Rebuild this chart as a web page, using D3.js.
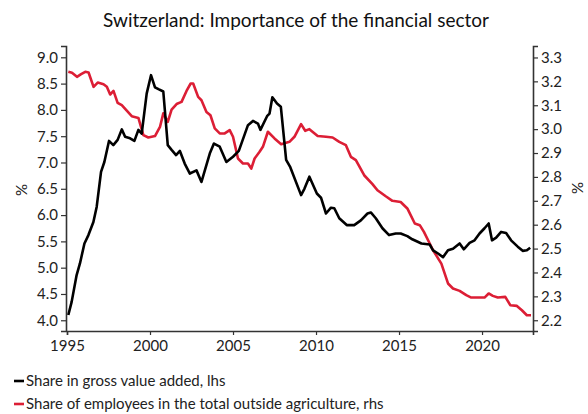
<!DOCTYPE html>
<html>
<head>
<meta charset="utf-8">
<script src="https://cdn.jsdelivr.net/npm/d3@7"></script>
<style>
  html, body { margin: 0; padding: 0; background: #fff; }
  svg { display: block; font-family: Lato, "Open Sans", sans-serif; }
</style>
</head>
<body>
<svg id="chart" width="588" height="414"></svg>
<script>
// ---- Data ----
const titleText = "Switzerland: Importance of the financial sector";
const xTicks = [1995, 2000, 2005, 2010, 2015, 2020];
const leftTicks = [4.0, 4.5, 5.0, 5.5, 6.0, 6.5, 7.0, 7.5, 8.0, 8.5, 9.0];
const rightTicks = [2.2, 2.3, 2.4, 2.5, 2.6, 2.7, 2.8, 2.9, 3.0, 3.1, 3.2, 3.3];
const seriesNames = ["Share in gross value added, lhs", "Share of employees in the total outside agriculture, rhs"];

// Share in gross value added (lhs)
const gvaDates = [1995.08,1995.28,1995.58,1995.78,1996.05,1996.29,1996.59,1996.79,1997.05,1997.25,1997.53,1997.79,1998.05,1998.3,1998.5,1998.8,1999.06,1999.3,1999.5,1999.8,2000.06,2000.3,2000.54,2000.8,2001.07,2001.3,2001.57,2001.8,2002.09,2002.4,2002.8,2003.1,2003.6,2003.85,2004.2,2004.6,2005.0,2005.35,2005.9,2006.2,2006.5,2006.65,2007.05,2007.2,2007.37,2007.65,2007.88,2008.2,2008.45,2009.1,2009.3,2009.6,2010.05,2010.3,2010.6,2010.9,2011.1,2011.4,2011.85,2012.3,2012.7,2013.1,2013.3,2013.6,2014.0,2014.4,2014.8,2015.1,2015.5,2015.8,2016.35,2016.85,2017.05,2017.35,2017.65,2017.95,2018.25,2018.65,2018.9,2019.25,2019.55,2019.85,2020.15,2020.4,2020.6,2020.85,2021.15,2021.45,2021.75,2022.15,2022.45,2022.7,2022.9];
const gvaValues = [4.10,4.35,4.86,5.08,5.46,5.62,5.87,6.16,6.82,7.01,7.41,7.33,7.43,7.63,7.49,7.46,7.41,7.62,7.55,8.31,8.66,8.43,8.39,8.35,7.33,7.24,7.14,7.22,6.98,6.79,6.85,6.63,7.17,7.36,7.30,7.01,7.11,7.22,7.71,7.79,7.74,7.62,7.88,7.93,8.24,8.12,8.06,7.05,6.91,6.38,6.50,6.73,6.41,6.33,6.03,6.14,6.13,5.94,5.81,5.81,5.90,6.03,6.05,5.94,5.75,5.62,5.65,5.65,5.60,5.54,5.46,5.44,5.33,5.27,5.20,5.33,5.36,5.46,5.35,5.47,5.52,5.65,5.75,5.84,5.52,5.57,5.68,5.66,5.52,5.40,5.32,5.33,5.38];

// Share of employees in the total outside agriculture (rhs)
const empDates = [1995.08,1995.3,1995.6,1995.85,1996.1,1996.3,1996.6,1996.85,1997.2,1997.4,1997.6,1997.8,1998.05,1998.3,1998.6,1998.9,1999.3,1999.6,1999.9,2000.3,2000.6,2000.8,2001.07,2001.3,2001.6,2001.9,2002.2,2002.45,2002.6,2002.9,2003.1,2003.4,2003.64,2003.9,2004.2,2004.5,2004.8,2005.0,2005.3,2005.6,2005.9,2006.1,2006.3,2006.6,2006.8,2007.1,2007.5,2007.9,2008.4,2008.7,2009.1,2009.35,2009.6,2010.1,2010.6,2011.0,2011.4,2011.8,2012.1,2012.4,2012.9,2013.4,2013.7,2014.2,2014.6,2015.1,2015.5,2015.95,2016.25,2016.5,2017.05,2017.55,2017.95,2018.25,2018.65,2019.05,2019.35,2020.15,2020.4,2020.65,2020.95,2021.4,2021.7,2022.1,2022.4,2022.7,2022.95];
const empValues = [3.240,3.236,3.219,3.230,3.240,3.237,3.177,3.195,3.188,3.177,3.145,3.160,3.110,3.100,3.077,3.054,3.047,2.975,2.965,2.971,3.009,3.066,3.030,3.082,3.105,3.114,3.160,3.191,3.191,3.135,3.121,3.072,3.058,3.003,2.982,2.982,2.996,2.968,2.877,2.856,2.856,2.835,2.877,2.905,2.926,2.989,2.961,2.937,2.947,2.968,3.021,2.993,3.000,2.971,2.968,2.965,2.947,2.933,2.884,2.870,2.807,2.770,2.744,2.719,2.700,2.695,2.668,2.605,2.598,2.570,2.493,2.437,2.354,2.333,2.323,2.305,2.295,2.295,2.312,2.302,2.295,2.298,2.263,2.260,2.242,2.221,2.221];

// ---- Layout ----
const svg = d3.select("#chart");
const plot = { left: 66, right: 533, top: 46, bottom: 331 };
const axisColor = "#333";
const red = "#dc1e35";
const fontFam = "Lato, 'Open Sans', sans-serif";

const x = d3.scaleLinear().domain([1995, 2023.07]).range([plot.left + 1, plot.right]);
const yL = d3.scaleLinear().domain([3.796, 9.215]).range([plot.bottom, plot.top]);
const yR = d3.scaleLinear().domain([2.155, 3.348]).range([plot.bottom, plot.top]);

// Title
svg.append("text")
  .attr("x", 296).attr("y", 27)
  .attr("text-anchor", "middle")
  .attr("font-size", 19)
  .attr("fill", "#111")
  .text(titleText);

// Axes
function styleAxis(g) {
  g.selectAll("path").attr("stroke", axisColor).attr("stroke-width", 1.6);
  g.selectAll("line").attr("stroke", axisColor).attr("stroke-width", 1.2);
  g.selectAll("text").attr("fill", "#222").attr("font-size", 15).attr("font-family", fontFam);
}

svg.append("g")
  .attr("transform", `translate(${plot.left},0)`)
  .call(d3.axisLeft(yL).tickValues(leftTicks).tickFormat(d3.format(".1f")).tickSizeOuter(0).tickSize(5).tickPadding(3))
  .call(styleAxis);

svg.append("g")
  .attr("transform", `translate(${plot.right},0)`)
  .call(d3.axisRight(yR).tickValues(rightTicks).tickFormat(d3.format(".1f")).tickSizeOuter(0).tickSize(5).tickPadding(3))
  .call(styleAxis);

svg.append("g")
  .attr("transform", `translate(0,${plot.bottom})`)
  .call(d3.axisBottom(x).tickValues(xTicks).tickFormat(d3.format("d")).tickSizeOuter(0).tickSize(4).tickPadding(5))
  .call(styleAxis);

// Axis unit labels
svg.append("text")
  .attr("transform", "translate(27,190) rotate(-90)")
  .attr("text-anchor", "middle").attr("font-size", 15).attr("fill", "#222")
  .text("%");
svg.append("text")
  .attr("transform", "translate(572,188) rotate(90)")
  .attr("text-anchor", "middle").attr("font-size", 15).attr("fill", "#222")
  .text("%");

// Lines
const gvaData = gvaDates.map((d, i) => [d, gvaValues[i]]);
const empData = empDates.map((d, i) => [d, empValues[i]]);

svg.append("path")
  .datum(empData)
  .attr("fill", "none").attr("stroke", red).attr("stroke-width", 2.6)
  .attr("stroke-linejoin", "round")
  .attr("d", d3.line().x(d => x(d[0])).y(d => yR(d[1])));

svg.append("path")
  .datum(gvaData)
  .attr("fill", "none").attr("stroke", "#000").attr("stroke-width", 2.6)
  .attr("stroke-linejoin", "round")
  .attr("d", d3.line().x(d => x(d[0])).y(d => yL(d[1])));

// Legend
const legendColors = ["#000", red];
const legend = svg.append("g");
seriesNames.forEach((name, i) => {
  const cy = 381 + i * 23;
  legend.append("line")
    .attr("x1", 14).attr("x2", 24).attr("y1", cy).attr("y2", cy)
    .attr("stroke", legendColors[i]).attr("stroke-width", 2.6);
  legend.append("text")
    .attr("x", 26).attr("y", cy + 5)
    .attr("font-size", 15).attr("fill", "#222")
    .text(name);
});
</script>
</body>
</html>
